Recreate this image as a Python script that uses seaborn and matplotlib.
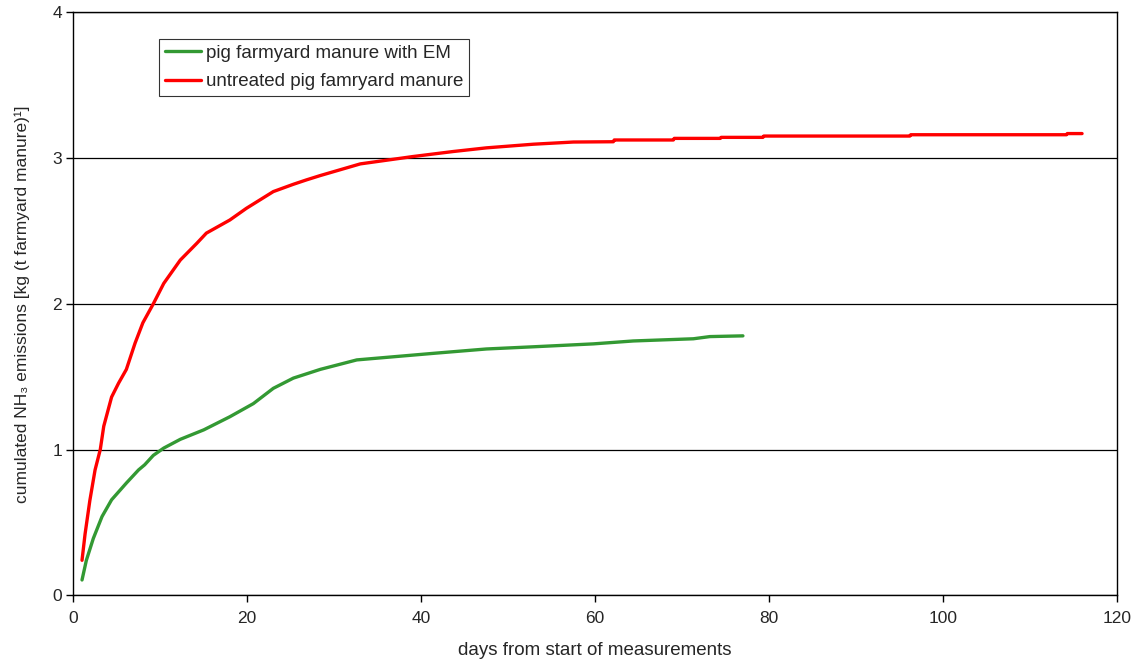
import numpy as np
import pandas as pd
import matplotlib
matplotlib.use("Agg")
import matplotlib.pyplot as plt
import seaborn as sns

# data
days_em = [1, 1.5, 2.3, 3.3, 4.4, 6.1, 7.5, 8.2, 9.2, 10.4, 12.3, 15, 18, 20.7,
           23, 25.3, 28.4, 32.6, 41.4, 47.5, 52.9, 59.8, 64.4, 71.3, 73.2, 77]
nh3_em = [0.105, 0.24, 0.39, 0.54, 0.655, 0.77, 0.86, 0.895, 0.96, 1.01, 1.07,
          1.135, 1.225, 1.315, 1.42, 1.49, 1.55, 1.615, 1.66, 1.69, 1.705,
          1.725, 1.745, 1.76, 1.775, 1.78]

days_untreated = [1, 1.35, 1.9, 2.5, 3.1, 3.5, 4.4, 5.2, 6.1, 7.1, 8.0, 9.2,
                  10.4, 12.3, 14.2, 15.3, 18, 19.9, 23, 25.3, 26.8, 28.4, 33,
                  39, 43.7, 47.5, 52.9, 57.5, 62.1, 62.2, 69, 69.1, 74.4, 74.5,
                  79.3, 79.4, 96.2, 96.3, 114.2, 114.3, 116]
nh3_untreated = [0.24, 0.42, 0.65, 0.86, 1.0, 1.16, 1.36, 1.455, 1.55, 1.73,
                 1.87, 2.0, 2.14, 2.30, 2.415, 2.485, 2.575, 2.655, 2.77, 2.82,
                 2.85, 2.88, 2.96, 3.01, 3.045, 3.07, 3.095, 3.11, 3.112, 3.124,
                 3.124, 3.135, 3.135, 3.142, 3.142, 3.151, 3.151, 3.16, 3.16,
                 3.168, 3.168]

labels = ["pig farmyard manure with EM", "untreated pig famryard manure"]
colors = ["#339933", "#ff0000"]

df = pd.concat([
    pd.DataFrame({"day": days_em, "nh3": nh3_em, "series": labels[0]}),
    pd.DataFrame({"day": days_untreated, "nh3": nh3_untreated, "series": labels[1]}),
])

sns.set_style("white")
plt.rcParams["font.family"] = ["Liberation Sans", "DejaVu Sans"]

fig = plt.figure(figsize=(11.35, 6.66), dpi=100)
ax = fig.add_axes([0.0646, 0.1062, 0.9194, 0.8753])

sns.lineplot(data=df, x="day", y="nh3", hue="series", palette=colors,
             sort=False, linewidth=2.4, ax=ax)

ax.set_xlim(0, 120)
ax.set_ylim(0, 4)
ax.set_xticks(np.arange(0, 121, 20))
ax.set_yticks([0, 1, 2, 3, 4])
ax.yaxis.grid(True, color="black", linewidth=0.9)
ax.xaxis.grid(False)
ax.set_axisbelow(True)
for s in ax.spines.values():
    s.set_color("black")
    s.set_linewidth(1.0)
ax.tick_params(bottom=True, left=True, direction="out", length=5, width=1,
               color="black", labelsize=12.5)
ax.tick_params(axis="x", pad=6)
ax.tick_params(axis="y", pad=3)

ax.set_xlabel("days from start of measurements", fontsize=13.5, labelpad=12)
ax.set_ylabel("cumulated NH₃ emissions [kg (t farmyard manure)¹]",
              fontsize=12.5, labelpad=16)

leg = ax.legend(loc="upper left", bbox_to_anchor=(0.0824, 0.9537),
                fontsize=13.5, frameon=True, fancybox=False,
                handlelength=1.9, borderpad=0.3, labelspacing=0.6,
                handletextpad=0.3, borderaxespad=0)
leg.get_frame().set_edgecolor("black")
leg.get_frame().set_linewidth(0.8)
leg.set_title(None)

plt.savefig("out.png", dpi=100)
